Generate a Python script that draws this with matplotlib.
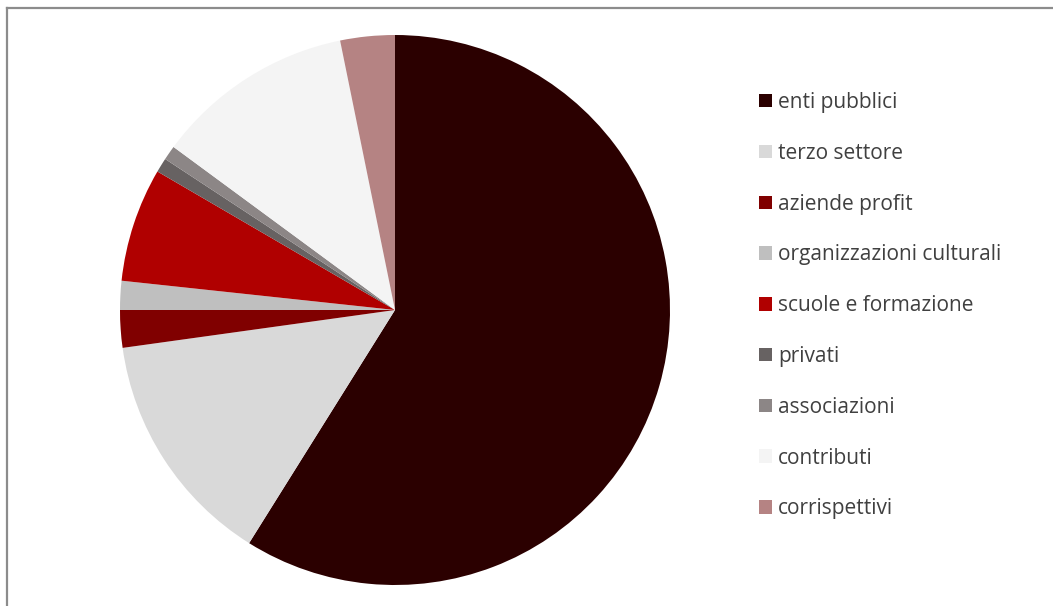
import matplotlib.pyplot as plt
from matplotlib.lines import Line2D

# dati
categorie = ['enti pubblici', 'terzo settore', 'aziende profit', 'organizzazioni culturali',
             'scuole e formazione', 'privati', 'associazioni', 'contributi', 'corrispettivi']
valori = [58.9, 13.9, 2.2, 1.7, 6.7, 0.85, 0.85, 11.7, 3.2]
colori = ['#2B0000', '#D9D9D9', '#800000', '#BFBFBF', '#B00000',
          '#676262', '#8C8686', '#F4F4F4', '#B58383']

plt.rcParams['font.family'] = ['Open Sans', 'DejaVu Sans']

W, H = 1053, 606
fig = plt.figure(figsize=(W / 100, H / 100), dpi=100)

# torta: centro (395, 310), raggio 275 px
cx, cy, r = 395, 310, 275
ax = fig.add_axes([(cx - r) / W, (H - cy - r) / H, 2 * r / W, 2 * r / H])
wedges, _ = ax.pie(valori, colors=colori, startangle=90, counterclock=False,
                   radius=1, wedgeprops=dict(linewidth=0))
ax.set_xlim(-1, 1)
ax.set_ylim(-1, 1)
ax.set_aspect('equal')
ax.axis('off')

# cornice grigia (solo lati sinistro e superiore visibili)
fig.add_artist(Line2D([7 / W, 7 / W], [0, 1 - 8 / H], color='#8C8C8C', lw=1.6,
                      transform=fig.transFigure))
fig.add_artist(Line2D([7 / W, 1], [1 - 8 / H, 1 - 8 / H], color='#8C8C8C', lw=1.6,
                      transform=fig.transFigure))

# legenda
fs = 15
fig.legend(wedges, categorie, loc='upper left', bbox_to_anchor=(759 / W, 1 - 92 / H),
           frameon=False, fontsize=fs, handlelength=0.62, handleheight=0.62,
           handletextpad=0.3, labelspacing=1.43, labelcolor='#404040',
           borderaxespad=0, borderpad=0)

plt.savefig('out.png', dpi=100)
